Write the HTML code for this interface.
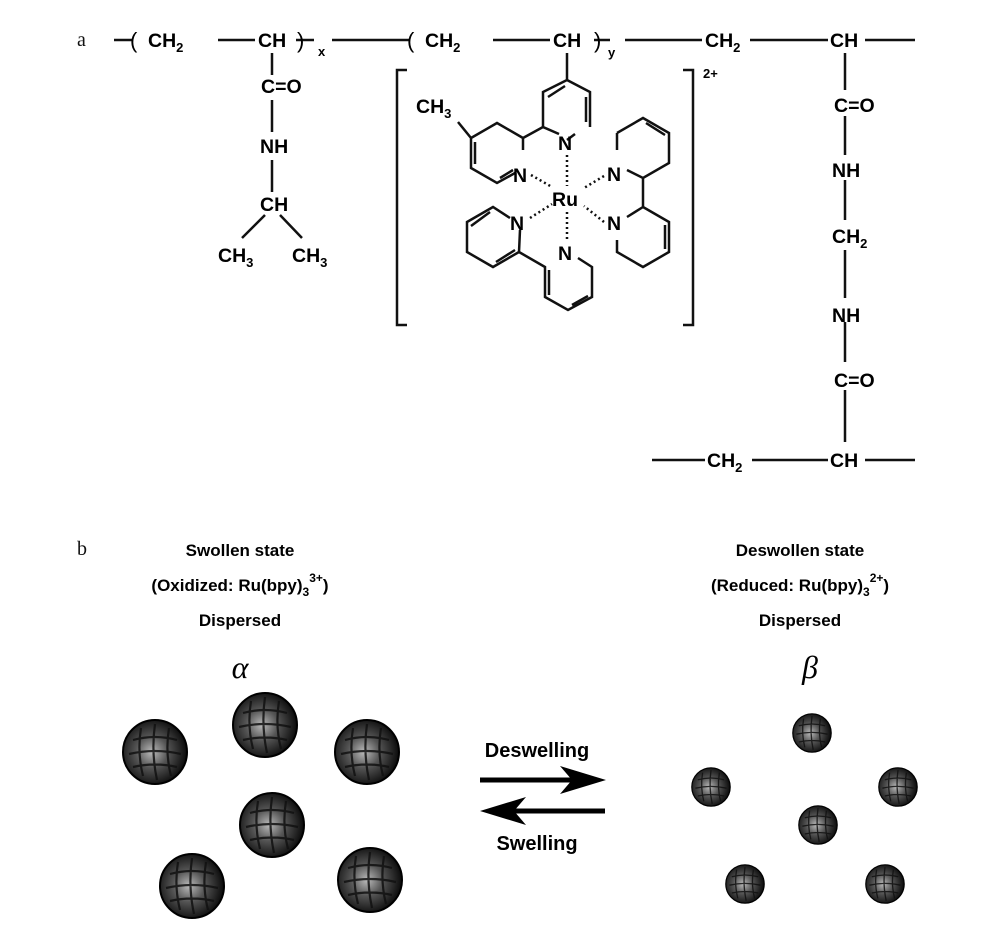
<!DOCTYPE html>
<html><head><style>
html,body{margin:0;padding:0;background:#fff}
svg{display:block}
.t{font-family:"Liberation Sans",sans-serif;font-weight:bold;font-size:19.5px;fill:#000}
.s{font-size:13px}
.l{stroke:#111;stroke-width:2.5;fill:none}
.d{stroke:#111;stroke-width:2.5;stroke-dasharray:2 3;fill:none}
.lab{font-family:"Liberation Serif",serif;font-size:20px;fill:#111}
.c{font-family:"Liberation Sans",sans-serif;font-weight:bold;font-size:17px;fill:#000;text-anchor:middle}
</style></head><body>
<svg width="1000" height="950" viewBox="0 0 1000 950">
<defs>
<radialGradient id="g" cx="0.45" cy="0.5" r="0.55">
<stop offset="0" stop-color="#bbb"/><stop offset="0.45" stop-color="#555"/><stop offset="1" stop-color="#0a0a0a"/>
</radialGradient>
<g id="sp">
<circle r="32" fill="url(#g)" stroke="#000" stroke-width="2"/>
<path d="M-22,-12 Q0,-18 22,-12 M-26,2 Q0,-4 26,2 M-22,15 Q0,10 22,15 M-14,-24 Q-18,0 -12,24 M0,-28 Q-4,0 2,28 M14,-24 Q10,0 16,24" stroke="#111" stroke-width="2.2" fill="none" opacity="0.85"/>
</g>
</defs>
<text class="lab" x="77" y="46">a</text>
<path class="l" d="M114,40 H133 M218,40 H255 M296,40 H314 M332,40 H410 M493,40 H550 M594,40 H610 M625,40 H702 M750,40 H828 M865,40 H915"/>
<text class="t" x="130" y="48" style="font-weight:normal;font-size:22px">(</text>
<text class="t" x="148" y="47">CH<tspan class="s" dy="5">2</tspan></text>
<text class="t" x="258" y="47">CH</text>
<text class="t" x="297" y="48" style="font-weight:normal;font-size:22px">)</text>
<text class="t s" x="318" y="56">x</text>
<text class="t" x="407" y="48" style="font-weight:normal;font-size:22px">(</text>
<text class="t" x="425" y="47">CH<tspan class="s" dy="5">2</tspan></text>
<text class="t" x="553" y="47">CH</text>
<text class="t" x="594" y="48" style="font-weight:normal;font-size:22px">)</text>
<text class="t s" x="608" y="57">y</text>
<text class="t" x="705" y="47">CH<tspan class="s" dy="5">2</tspan></text>
<text class="t" x="830" y="47">CH</text>
<path class="l" d="M272,53 V75 M272,100 V132 M272,160 V192 M265,215 L242,238 M280,215 L302,238"/>
<text class="t" x="261" y="93">C=O</text>
<text class="t" x="260" y="153">NH</text>
<text class="t" x="260" y="211">CH</text>
<text class="t" x="218" y="262">CH<tspan class="s" dy="5">3</tspan></text>
<text class="t" x="292" y="262">CH<tspan class="s" dy="5">3</tspan></text>
<path class="l" d="M845,53 V90 M845,116 V155 M845,180 V220 M845,250 V298 M845,322 V362 M845,390 V442 M652,460 H705 M752,460 H828 M865,460 H915"/>
<text class="t" x="834" y="112">C=O</text>
<text class="t" x="832" y="177">NH</text>
<text class="t" x="832" y="243">CH<tspan class="s" dy="5">2</tspan></text>
<text class="t" x="832" y="322">NH</text>
<text class="t" x="834" y="387">C=O</text>
<text class="t" x="707" y="467">CH<tspan class="s" dy="5">2</tspan></text>
<text class="t" x="830" y="467">CH</text>
<path class="l" d="M407,70 H397 V325 H407 M683,70 H693 V325 H683"/>
<text class="t s" x="703" y="78">2+</text>
<path class="l" d="M567,53 V80 M567,80 L590,92 V127 M575,134 L567,140 M559,134 L543,127 V92 L567,80 M586,97 V122 M548,97 L565,86"/>
<path class="l" d="M543,127 L523,138 M523,138 L497,123 L471,138 V168 L497,183 L515,173 M523,150 V138 M475,142 V164 M500,178 L513,170 M471,138 L458,122"/>
<text class="t" x="416" y="113">CH<tspan class="s" dy="5">3</tspan></text>
<text class="t" x="513" y="182">N</text>
<text class="t" x="558" y="150">N</text>
<path class="l" d="M617,133 L643,118 L669,133 V163 L643,178 L627,170 M617,150 V133 M646,123 L665,135 M643,178 L643,207 L669,222 V252 L643,267 L617,252 V240 M627,217 L643,207 M665,225 V249"/>
<text class="t" x="607" y="181">N</text>
<text class="t" x="607" y="230">N</text>
<path class="l" d="M510,218 L493,207 L467,222 V252 L493,267 L519,252 L520,230 M471,226 L490,212 M496,262 L515,250 M519,252 L545,267 V297 L568,310 L592,297 V267 L578,258 M549,270 V295 M572,305 L588,296"/>
<text class="t" x="510" y="230">N</text>
<text class="t" x="558" y="260">N</text>
<text class="t" x="552" y="206">Ru</text>
<path class="d" d="M567,155 V186 M531,175 L552,187 M530,218 L552,204 M567,212 V240 M604,176 L584,188 M604,222 L584,206"/>
<text class="lab" x="77" y="555">b</text>
<text class="c" x="240" y="556">Swollen state</text>
<text class="c" x="240" y="591">(Oxidized: Ru(bpy)<tspan font-size="12" dy="5">3</tspan><tspan font-size="12" dy="-14">3+</tspan><tspan dy="9">)</tspan></text>
<text class="c" x="240" y="626">Dispersed</text>
<text class="c" x="800" y="556">Deswollen state</text>
<text class="c" x="800" y="591">(Reduced: Ru(bpy)<tspan font-size="12" dy="5">3</tspan><tspan font-size="12" dy="-14">2+</tspan><tspan dy="9">)</tspan></text>
<text class="c" x="800" y="626">Dispersed</text>
<text x="240" y="678" style="font-family:'Liberation Serif',serif;font-style:italic;font-size:32px" text-anchor="middle">α</text>
<text x="810" y="678" style="font-family:'Liberation Serif',serif;font-style:italic;font-size:32px" text-anchor="middle">β</text>
<use href="#sp" x="265" y="725"/>
<use href="#sp" x="155" y="752"/>
<use href="#sp" x="367" y="752"/>
<use href="#sp" x="272" y="825"/>
<use href="#sp" x="192" y="886"/>
<use href="#sp" x="370" y="880"/>
<use href="#sp" transform="translate(812,733) scale(0.6)"/>
<use href="#sp" transform="translate(711,787) scale(0.6)"/>
<use href="#sp" transform="translate(898,787) scale(0.6)"/>
<use href="#sp" transform="translate(818,825) scale(0.6)"/>
<use href="#sp" transform="translate(745,884) scale(0.6)"/>
<use href="#sp" transform="translate(885,884) scale(0.6)"/>
<text class="c" x="537" y="757" style="font-size:20px">Deswelling</text>
<text class="c" x="537" y="850" style="font-size:20px">Swelling</text>
<path d="M480,780 H590" stroke="#000" stroke-width="5"/>
<path d="M606,780 L560,766 L572,780 L560,794 Z" fill="#000"/>
<path d="M605,811 H495" stroke="#000" stroke-width="5"/>
<path d="M480,811 L526,797 L514,811 L526,825 Z" fill="#000"/>
</svg>
</body></html>
